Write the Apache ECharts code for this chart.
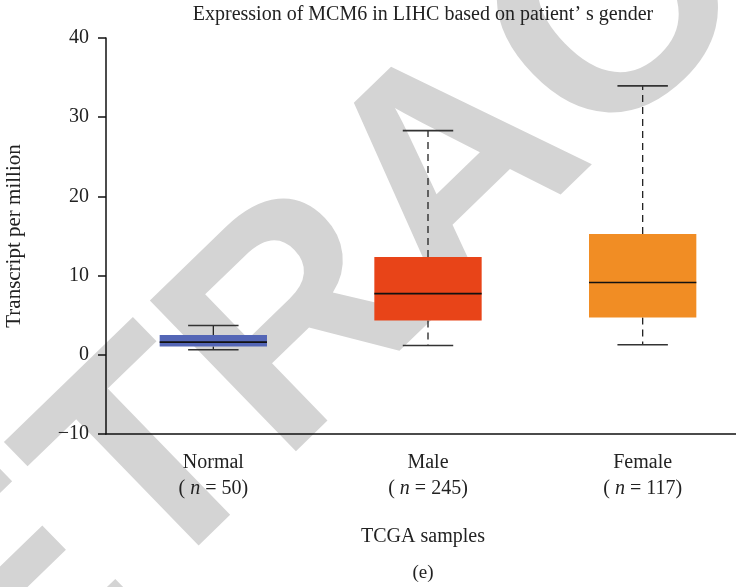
<!DOCTYPE html>
<html>
<head>
<meta charset="utf-8">
<script src="https://cdn.jsdelivr.net/npm/echarts@6/dist/echarts.min.js"></script>
<style>html,body{margin:0;padding:0;background:#fff;}#c{width:736px;height:587px;}</style>
</head>
<body>
<div id="c"></div>
<script>
var categories = ['Normal', 'Male', 'Female'];
var sampleCounts = [50, 245, 117];
var lowerWhisker = [0.63, 1.17, 1.26];
var q1 = [1.05, 4.33, 4.7];
var median = [1.6, 7.73, 9.12];
var q3 = [2.5, 12.36, 15.26];
var upperWhisker = [3.7, 28.3, 33.96];
var boxColors = ['#5466b6', '#e84418', '#f18d24'];
var yTicks = [-10, 0, 10, 20, 30, 40];

var FONT = '"Liberation Serif", "DejaVu Serif", serif';
var chart = echarts.init(document.getElementById('c'), null, {renderer: 'canvas'});

var boxData = categories.map(function (c, i) {
  return [i, lowerWhisker[i], q1[i], median[i], q3[i], upperWhisker[i]];
});

function renderBox(params, api) {
  var i = api.value(0);
  var catW = api.size([1, 0])[0];
  var boxW = catW * 0.5;
  var capW = catW * 0.235;
  var pLow = api.coord([i, api.value(1)]);
  var pQ1 = api.coord([i, api.value(2)]);
  var pMed = api.coord([i, api.value(3)]);
  var pQ3 = api.coord([i, api.value(4)]);
  var pHigh = api.coord([i, api.value(5)]);
  var x = pMed[0];
  var dash = i === 0 ? null : [7, 5];
  var lineStyle = {stroke: '#222', lineWidth: 1.3, lineDash: dash};
  var capStyle = {stroke: '#333', lineWidth: 1.6};
  return {
    type: 'group',
    children: [
      {type: 'line', shape: {x1: x, y1: pQ3[1], x2: x, y2: pHigh[1]}, style: lineStyle},
      {type: 'line', shape: {x1: x, y1: pQ1[1], x2: x, y2: pLow[1]}, style: lineStyle},
      {type: 'line', shape: {x1: x - capW / 2, y1: pHigh[1], x2: x + capW / 2, y2: pHigh[1]}, style: capStyle},
      {type: 'line', shape: {x1: x - capW / 2, y1: pLow[1], x2: x + capW / 2, y2: pLow[1]}, style: capStyle},
      {type: 'rect', shape: {x: x - boxW / 2, y: pQ3[1], width: boxW, height: pQ1[1] - pQ3[1]}, style: {fill: boxColors[i]}},
      {type: 'line', shape: {x1: x - boxW / 2, y1: pMed[1], x2: x + boxW / 2, y2: pMed[1]}, style: {stroke: '#111', lineWidth: 1.6}}
    ]
  };
}

var option = {
  backgroundColor: '#fff',
  animation: false,
  title: {
    text: 'Expression of MCM6 in LIHC based on patient\u2019 s gender',
    left: 418, top: 0, textAlign: 'center',
    textStyle: {fontFamily: FONT, fontSize: 20, fontWeight: 'normal', color: '#222'}
  },
  graphic: [
    {type: 'text', z: -10, x: 460, y: 175, rotation: Math.PI * 0.245, silent: true,
     style: {text: 'RETRACTED', font: 'bold 305px "Liberation Sans", Arial, sans-serif', fill: '#d4d4d4', textAlign: 'center', textVerticalAlign: 'middle'}},
    {type: 'text', x: 423, y: 537, style: {text: 'TCGA samples', font: '20px ' + FONT, fill: '#222', textAlign: 'center', textVerticalAlign: 'middle'}},
    {type: 'text', x: 423, y: 573, style: {text: '(e)', font: '19px ' + FONT, fill: '#222', textAlign: 'center', textVerticalAlign: 'middle'}}
  ],
  grid: {left: 106, top: 38, height: 396, width: 644, outerBoundsMode: 'none', containLabel: false},
  xAxis: {
    type: 'category',
    data: categories,
    boundaryGap: true,
    axisLine: {onZero: false, lineStyle: {color: '#111', width: 1.5}},
    axisTick: {alignWithLabel: true, length: 8, lineStyle: {color: '#111', width: 1.5}},
    axisLabel: {
      margin: 16,
      formatter: function (v, idx) {
        return '{a|' + v + '}\n{a|( }{i|n}{a| = ' + sampleCounts[idx] + ')}';
      },
      rich: {
        a: {fontFamily: FONT, fontSize: 20, color: '#222', lineHeight: 26},
        i: {fontFamily: FONT, fontSize: 20, fontStyle: 'italic', color: '#222', lineHeight: 26}
      }
    }
  },
  yAxis: {
    type: 'value',
    min: -10, max: 40, interval: 10,
    name: 'Transcript per million',
    nameLocation: 'middle',
    nameGap: 81,
    nameTextStyle: {fontFamily: FONT, fontSize: 21, color: '#222'},
    splitLine: {show: false},
    axisLine: {show: true, lineStyle: {color: '#111', width: 1.5}},
    axisTick: {show: true, length: 8, lineStyle: {color: '#111', width: 1.5}},
    axisLabel: {
      margin: 17, fontFamily: FONT, fontSize: 20, color: '#222',
      formatter: function (v) { return yTicks.indexOf(v) >= 0 ? String(v).replace('-', '\u2212') : ''; }
    }
  },
  series: [{
    type: 'custom',
    renderItem: renderBox,
    encode: {x: 0, y: [1, 2, 3, 4, 5]},
    data: boxData,
    z: 5
  }]
};
chart.setOption(option);
</script>
</body>
</html>
